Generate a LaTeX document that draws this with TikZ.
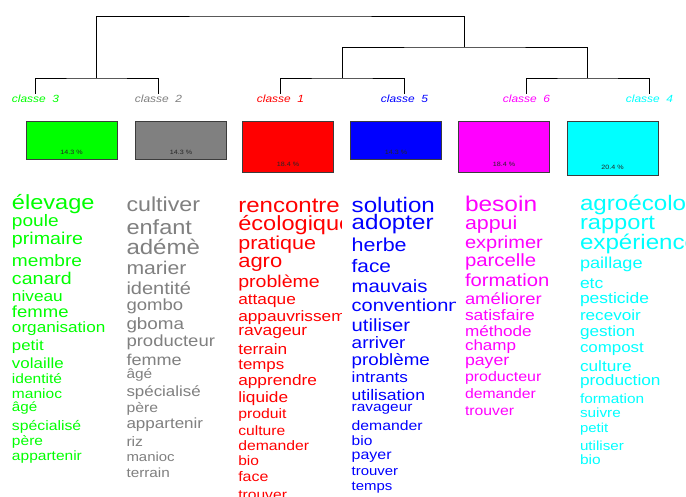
\documentclass[tikz,border=0pt]{standalone}
\usepackage{fontspec}
\setmainfont[FakeStretch=1.15]{Liberation Sans}
\definecolor{cgreen}{RGB}{0,255,0}
\definecolor{cgray}{RGB}{128,128,128}
\definecolor{cred}{RGB}{255,0,0}
\definecolor{cblue}{RGB}{0,0,255}
\definecolor{cmag}{RGB}{255,0,255}
\definecolor{ccyan}{RGB}{0,255,255}
\definecolor{boxline}{RGB}{60,60,60}
\begin{document}
\begin{tikzpicture}[x=1pt,y=-1pt,
  word/.style={anchor=base west, inner sep=0pt, outer sep=0pt},
  dendro/.style={draw=black, line width=0.9pt},
  classlabel/.style={inner sep=0pt, font=\itshape\fontsize{10.4}{10.4}\selectfont},
  pctbox/.style={draw=boxline, line width=0.8pt, rectangle, inner sep=0pt, minimum width=91pt},
  pct/.style={inner sep=0pt, text=black!85, font=\fontsize{6.2}{6.2}\selectfont}]
\fill[white] (0,0) rectangle (686,497);
\useasboundingbox (0,0) rectangle (686,497);

% dendrogram
\coordinate (l3) at (35,94);
\coordinate (l2) at (158,94);
\coordinate (l1) at (280,94);
\coordinate (l5) at (404,94);
\coordinate (l6) at (526,94);
\coordinate (l4) at (649,94);
\coordinate (m32) at (96.5,78);
\coordinate (m15) at (342,78);
\coordinate (m64) at (587.5,78);
\coordinate (m1564) at (464.75,47);
\coordinate (root) at (280.6,16);
\draw[dendro] (l3) |- (m32) -| (l2);
\draw[dendro] (l1) |- (m15) -| (l5);
\draw[dendro] (l6) |- (m64) -| (l4);
\draw[dendro] (m15) |- (m1564) -| (m64);
\draw[dendro] (m32) |- (root) -| (m1564);

% class labels
\node[classlabel, text=cgreen] (cl3) at (35.5,99) {classe\ \ 3};
\node[classlabel, text=cgray] (cl2) at (158.5,99) {classe\ \ 2};
\node[classlabel, text=cred] (cl1) at (280.5,99) {classe\ \ 1};
\node[classlabel, text=cblue] (cl5) at (404.5,99) {classe\ \ 5};
\node[classlabel, text=cmag] (cl6) at (526.5,99) {classe\ \ 6};
\node[classlabel, text=ccyan] (cl4) at (649.5,99) {classe\ \ 4};

% boxes
\node[pctbox, fill=cgreen, minimum height=38pt] (box3) at (71.5,140) {};
\node[pctbox, fill=cgray, minimum height=38pt] (box2) at (181,140) {};
\node[pctbox, fill=cred, minimum height=51pt] (box1) at (288,146.5) {};
\node[pctbox, fill=cblue, minimum height=38pt] (box5) at (396,140) {};
\node[pctbox, fill=cmag, minimum height=51pt] (box6) at (504,146.5) {};
\node[pctbox, fill=ccyan, minimum height=54pt] (box4) at (612.5,148) {};
\node[pct] (p3) at (71.5,152) {14.3 \%};
\node[pct] (p2) at (181,152) {14.3 \%};
\node[pct] (p1) at (288,164) {18.4 \%};
\node[pct] (p5) at (396,152) {14.3 \%};
\node[pct] (p6) at (504,164) {18.4 \%};
\node[pct] (p4) at (612.5,167) {20.4 \%};

% classe 3 words
\begin{scope}
\clip (8,180) rectangle (115,500);
\foreach \wrd/\sz/\yy [count=\i] in {élevage/20.5/210, poule/16.6/226.7, primaire/17.1/245, membre/16.6/266.7, canard/17.0/285, niveau/15.0/301.7, femme/16.1/318, organisation/14.9/333, petit/14.6/350.7, volaille/14.7/368, identité/13.5/383, manioc/13.5/398, âgé/13.2/411.7, spécialisé/13.7/430, père/13.5/445, appartenir/13.5/460}
  \node[word, text=cgreen, font=\fontsize{\sz}{\sz}\selectfont] (g\i) at (12,\yy) {\wrd};
\end{scope}

% classe 2 words
\begin{scope}
\clip (122,180) rectangle (229,500);
\foreach \wrd/\sz/\yy [count=\i] in {cultiver/20.2/211.7, enfant/20.5/235, adémè/20.9/255, marier/18.4/275, identité/17.4/294.3, gombo/16.1/311, gboma/16.4/330, producteur/16.1/346.7, femme/15.7/365, âgé/13.4/378.3, spécialisé/14.7/396.7, père/13.7/412.3, appartenir/14.8/428.3, riz/13.7/446.7, manioc/13.0/461.7, terrain/13.3/477.7}
  \node[word, text=cgray, font=\fontsize{\sz}{\sz}\selectfont] (k\i) at (126.5,\yy) {\wrd};
\end{scope}

% classe 1 words
\begin{scope}
\clip (235,180) rectangle (341.5,500);
\foreach \wrd/\sz/\yy [count=\i] in {rencontre/20.9/212.3, écologique/20.5/231, pratique/18.7/250, agro/19.1/267.7, problème/17.0/287.7, attaque/15.0/305, appauvrissement/15.0/321.7, ravageur/15.2/335.7, terrain/15.0/355, temps/14.7/370, apprendre/15.0/385, liquide/15.0/402.3, produit/13.7/418.3, culture/13.6/435.7, demander/13.7/450, bio/13.5/465.7, face/13.9/481.7, trouver/13.6/499}
  \node[word, text=cred, font=\fontsize{\sz}{\sz}\selectfont] (r\i) at (238.3,\yy) {\wrd};
\end{scope}

% classe 5 words
\begin{scope}
\clip (348,180) rectangle (455,500);
\foreach \wrd/\sz/\yy [count=\i] in {solution/21.0/212.3, adopter/21.0/230, herbe/18.7/251.7, face/18.1/272.3, mauvais/17.7/292.3, conventionnel/17.4/311.7, utiliser/17.6/331, arriver/16.5/348.3, problème/16.3/365, intrants/14.9/382.3, utilisation/15.3/400, ravageur/13.4/411.7, demander/13.7/430, bio/13.5/445.7, payer/13.9/459, trouver/13.0/475, temps/13.0/490}
  \node[word, text=cblue, font=\fontsize{\sz}{\sz}\selectfont] (u\i) at (351.7,\yy) {\wrd};
\end{scope}

% classe 6 words
\begin{scope}
\clip (462,180) rectangle (569,500);
\foreach \wrd/\sz/\yy [count=\i] in {besoin/21.3/211.7, appui/18.6/230, exprimer/17.4/248.3, parcelle/17.7/266.7, formation/17.6/286.7, améliorer/16.0/305, satisfaire/15.2/320, méthode/14.9/336.7, champ/14.8/350, payer/15.4/365, producteur/13.9/381.7, demander/13.7/398.3, trouver/13.7/415}
  \node[word, text=cmag, font=\fontsize{\sz}{\sz}\selectfont] (m\i) at (465,\yy) {\wrd};
\end{scope}

% classe 4 words
\begin{scope}
\clip (576,180) rectangle (686,500);
\foreach \wrd/\sz/\yy [count=\i] in {agroécologie/21.0/211, rapport/20.6/230, expérience/21.0/250, paillage/15.8/268.3, etc/15.2/288.3, pesticide/15.2/303.3, recevoir/14.9/321, gestion/14.9/336.7, compost/14.7/352.3, culture/15.0/371.7, production/15.0/385, formation/13.4/403.3, suivre/13.3/417.7, petit/13.0/432.3, utiliser/13.2/450, bio/13.5/464.3}
  \node[word, text=ccyan, font=\fontsize{\sz}{\sz}\selectfont] (c\i) at (580,\yy) {\wrd};
\end{scope}
\end{tikzpicture}
\end{document}
